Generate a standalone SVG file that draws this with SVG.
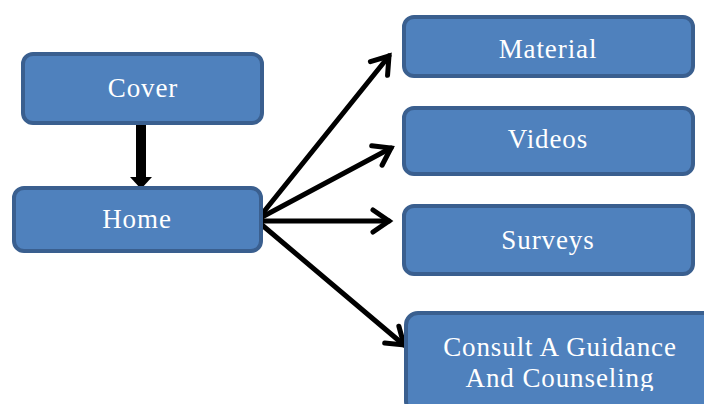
<svg xmlns="http://www.w3.org/2000/svg" width="704" height="404" viewBox="0 0 704 404">
<style>
.box{fill:#4f81bd;stroke:#3a5f8f;stroke-width:4}
.lbl{font-family:"Liberation Serif","DejaVu Serif",serif;font-size:27px;letter-spacing:0.9px;fill:#ffffff;text-anchor:middle}
.conn{stroke:#000;stroke-width:5;fill:none;stroke-linecap:round}
</style>
<defs>
<marker id="chev" markerUnits="userSpaceOnUse" markerWidth="30" markerHeight="30" viewBox="-20 -15 30 30" refX="0" refY="0" orient="auto">
<path d="M-16,-11 L0,0 L-16,11" fill="none" stroke="#000" stroke-width="5" stroke-linecap="round" stroke-linejoin="miter"/>
</marker>
<clipPath id="clipC"><rect x="405" y="312" width="310" height="79"/></clipPath>
</defs>
<rect width="704" height="404" fill="#ffffff"/>
<g id="connectors">
<rect x="136" y="120" width="10" height="58" fill="#000"/>
<polygon points="130,177 152,177 141,189" fill="#000"/>
<line class="conn" x1="262" y1="214" x2="389" y2="56" marker-end="url(#chev)"/>
<line class="conn" x1="262" y1="217" x2="391" y2="148" marker-end="url(#chev)"/>
<line class="conn" x1="262" y1="221" x2="389" y2="221" marker-end="url(#chev)"/>
<line class="conn" x1="262" y1="225" x2="404" y2="345" marker-end="url(#chev)"/>
</g>
<g id="cover">
<rect class="box" x="23" y="54" width="239" height="69" rx="10"/>
<text class="lbl" x="143" y="97">Cover</text>
</g>
<g id="home">
<rect class="box" x="14" y="188" width="247" height="63" rx="10"/>
<text class="lbl" x="137" y="228">Home</text>
</g>
<g id="material">
<rect class="box" x="404" y="17" width="289" height="59" rx="10"/>
<text class="lbl" x="548" y="58">Material</text>
</g>
<g id="videos">
<rect class="box" x="404" y="108" width="289" height="66" rx="10"/>
<text class="lbl" x="548" y="148">Videos</text>
</g>
<g id="surveys">
<rect class="box" x="404" y="206" width="289" height="68" rx="10"/>
<text class="lbl" x="548" y="249">Surveys</text>
</g>
<g id="consult">
<rect class="box" x="406" y="313" width="310" height="100" rx="12"/>
<g clip-path="url(#clipC)">
<text class="lbl" x="560" y="356">Consult A Guidance</text>
<text class="lbl" x="560" y="387">And Counseling</text>
</g>
</g>
</svg>
